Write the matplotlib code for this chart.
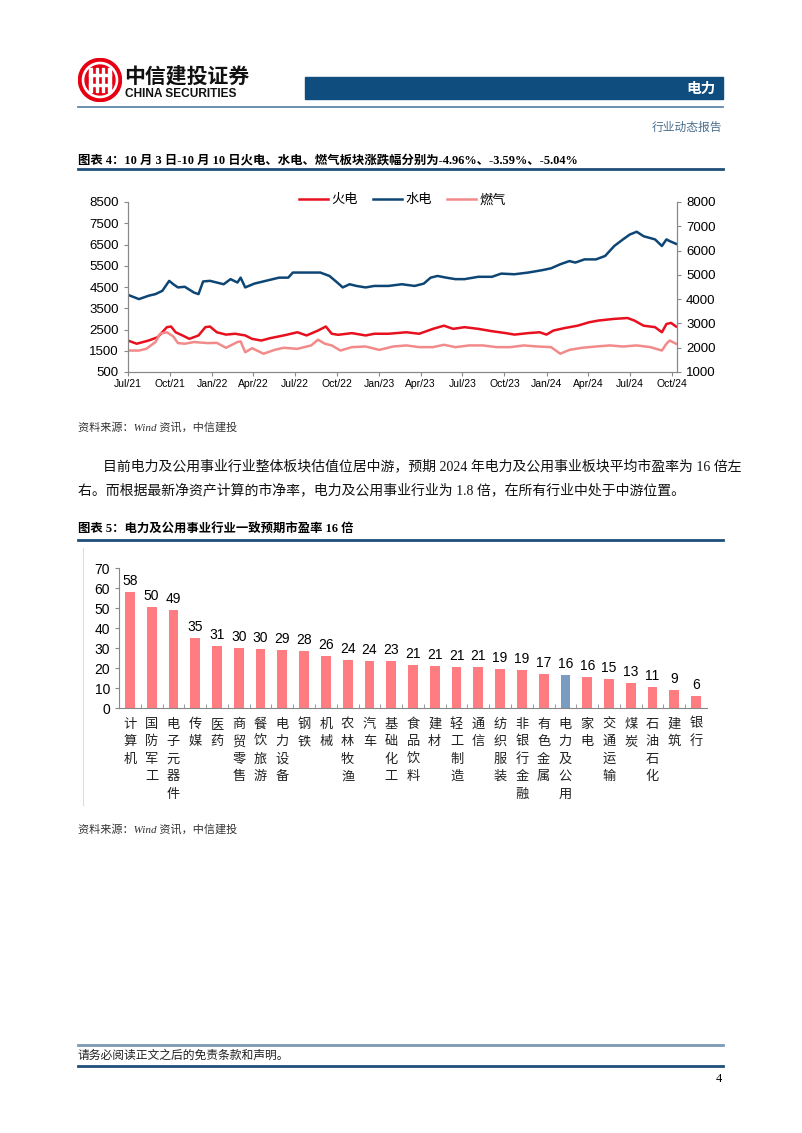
import pandas as pd
import matplotlib.pyplot as plt
import matplotlib.dates as mdates
from matplotlib.patches import Rectangle, Circle
from matplotlib.lines import Line2D

plt.rcParams['font.family'] = ['Liberation Sans', 'Noto Sans CJK SC', 'DejaVu Sans']
CJK = ['Liberation Serif', 'Noto Sans CJK SC', 'DejaVu Sans']

# ---- chart 4 data ----
hydro_dates = ['2021-07-01', '2021-07-25', '2021-08-15', '2021-08-30', '2021-09-14', '2021-09-29',
               '2021-10-08', '2021-10-18', '2021-11-02', '2021-11-22', '2021-12-02', '2021-12-12',
               '2021-12-27', '2022-01-11', '2022-01-26', '2022-02-10', '2022-02-25', '2022-03-04',
               '2022-03-14', '2022-04-03', '2022-04-28', '2022-05-27', '2022-06-16', '2022-06-26',
               '2022-07-16', '2022-08-05', '2022-08-25', '2022-09-14', '2022-10-01', '2022-10-13',
               '2022-10-28', '2022-11-12', '2022-12-02', '2022-12-21', '2023-01-21', '2023-02-19',
               '2023-03-19', '2023-04-08', '2023-04-23', '2023-05-08', '2023-05-27', '2023-06-16',
               '2023-07-06', '2023-08-05', '2023-09-04', '2023-09-24', '2023-10-23', '2023-11-22',
               '2023-12-22', '2024-01-11', '2024-01-31', '2024-02-20', '2024-03-04', '2024-03-24',
               '2024-04-18', '2024-05-08', '2024-05-28', '2024-06-16', '2024-07-01', '2024-07-16',
               '2024-07-31', '2024-08-25', '2024-09-09', '2024-09-19', '2024-09-26', '2024-10-10']
hydro = [4130, 3930, 4090, 4165, 4320, 4790, 4630, 4480, 4510, 4240, 4165, 4760,
         4790, 4710, 4630, 4870, 4710, 4940, 4480, 4660, 4790, 4940, 4940, 5180,
         5180, 5180, 5180, 5020, 4710, 4480, 4630, 4550, 4480, 4550, 4550, 4630,
         4550, 4660, 4940, 5020, 4940, 4870, 4870, 4980, 4980, 5130, 5100, 5180,
         5290, 5380, 5570, 5720, 5650, 5800, 5800, 5960, 6430, 6740, 6970, 7100,
         6890, 6740, 6430, 6740, 6660, 6530]

thermal_dates = ['2021-07-01', '2021-07-20', '2021-08-15', '2021-09-04', '2021-09-24', '2021-10-03',
                 '2021-10-13', '2021-10-28', '2021-11-12', '2021-12-02', '2021-12-17', '2021-12-27',
                 '2022-01-11', '2022-01-31', '2022-02-20', '2022-03-14', '2022-03-29', '2022-04-18',
                 '2022-05-07', '2022-06-06', '2022-07-06', '2022-07-26', '2022-08-20', '2022-09-06',
                 '2022-09-19', '2022-10-03', '2022-11-02', '2022-12-02', '2022-12-21', '2023-01-21',
                 '2023-03-01', '2023-03-29', '2023-04-28', '2023-05-22', '2023-06-11', '2023-07-06',
                 '2023-08-05', '2023-09-04', '2023-10-04', '2023-10-23', '2023-11-22', '2023-12-17',
                 '2024-01-01', '2024-01-16', '2024-02-10', '2024-03-09', '2024-04-03', '2024-04-23',
                 '2024-05-28', '2024-06-26', '2024-07-11', '2024-07-31', '2024-08-25', '2024-09-09',
                 '2024-09-19', '2024-09-29', '2024-10-10']
thermal = [1980, 1830, 1980, 2140, 2610, 2640, 2370, 2220, 2060, 2220, 2610, 2640,
           2370, 2260, 2300, 2220, 2060, 1980, 2090, 2220, 2370, 2220, 2450, 2640,
           2300, 2250, 2330, 2220, 2300, 2300, 2370, 2300, 2530, 2680, 2530, 2610,
           2530, 2420, 2330, 2260, 2330, 2370, 2260, 2450, 2570, 2680, 2840, 2920,
           3000, 3040, 2920, 2680, 2610, 2370, 2760, 2810, 2640]

gas_dates = ['2021-07-01', '2021-07-25', '2021-08-10', '2021-08-30', '2021-09-09', '2021-09-24',
             '2021-10-08', '2021-10-18', '2021-11-02', '2021-11-22', '2021-12-22', '2022-01-11',
             '2022-01-31', '2022-02-25', '2022-03-04', '2022-03-14', '2022-03-29', '2022-04-23',
             '2022-05-17', '2022-06-06', '2022-07-06', '2022-08-05', '2022-08-20', '2022-09-04',
             '2022-09-19', '2022-10-08', '2022-11-02', '2022-12-02', '2023-01-01', '2023-01-31',
             '2023-03-01', '2023-03-29', '2023-04-28', '2023-05-22', '2023-06-16', '2023-07-16',
             '2023-08-15', '2023-09-14', '2023-10-14', '2023-11-12', '2023-12-12', '2024-01-11',
             '2024-01-31', '2024-02-20', '2024-03-19', '2024-04-18', '2024-05-18', '2024-06-16',
             '2024-07-16', '2024-08-15', '2024-09-09', '2024-09-19', '2024-09-26', '2024-10-10']
gas = [1510, 1510, 1590, 1910, 2300, 2370, 2170, 1860, 1830, 1910, 1860, 1870,
       1640, 1910, 1940, 1430, 1620, 1360, 1540, 1640, 1590, 1750, 2020, 1830,
       1750, 1510, 1670, 1700, 1540, 1700, 1750, 1670, 1670, 1780, 1670, 1750,
       1750, 1670, 1670, 1750, 1700, 1670, 1360, 1540, 1640, 1700, 1750, 1700,
       1750, 1670, 1510, 1830, 1980, 1830]

# ---- chart 5 data ----
industries = ['计算机', '国防军工', '电子元器件', '传媒', '医药', '商贸零售', '餐饮旅游', '电力设备',
              '钢铁', '机械', '农林牧渔', '汽车', '基础化工', '食品饮料', '建材', '轻工制造', '通信',
              '纺织服装', '非银行金融', '有色金属', '电力及公用', '家电', '交通运输', '煤炭',
              '石油石化', '建筑', '银行']
pe = [58.2, 50.3, 49.2, 34.9, 31.2, 29.8, 29.6, 28.9, 28.4, 25.9, 24.2, 23.6, 23.3, 21.3,
      20.8, 20.6, 20.6, 19.3, 18.8, 17.1, 16.4, 15.6, 14.7, 12.6, 10.6, 8.8, 6.0]
highlight = '电力及公用'

W, H = 802, 1133
fig = plt.figure(figsize=(W / 100, H / 100), dpi=100)


def box(x0, y0, x1, y1):
    return [x0 / W, 1 - y1 / H, (x1 - x0) / W, (y1 - y0) / H]


def ftext(x, y, s, **kw):
    fig.text(x / W, 1 - y / H, s, **kw)


def hline(x0, x1, y, color, lw):
    fig.add_artist(Line2D([x0 / W, x1 / W], [1 - y / H, 1 - y / H], color=color, lw=lw))


# header
lg = fig.add_axes(box(78, 58, 122, 102))
lg.set_xlim(-1, 1); lg.set_ylim(-1, 1); lg.axis('off')
lg.add_patch(Circle((0, 0), 0.98, color='#E60012'))
lg.add_patch(Circle((0, 0), 0.80, color='white'))
lg.add_patch(Circle((0, 0), 0.68, color='#E60012'))
for xx in [-0.42, -0.14, 0.14, 0.42]:
    lg.add_patch(Rectangle((xx - 0.06, -0.55), 0.12, 1.1, color='white'))
lg.add_patch(Rectangle((-0.5, 0.18), 1.0, 0.1, color='white'))
lg.add_patch(Rectangle((-0.5, -0.28), 1.0, 0.1, color='white'))
ftext(124, 76, '中信建投证券', fontsize=15, fontweight='bold', family=['Noto Sans CJK SC'],
      va='center', ha='left', color='#111111')
ftext(125, 94, 'CHINA SECURITIES', fontsize=8.6, fontweight='bold', va='center', ha='left',
      color='#111111')
fig.add_artist(Rectangle((305 / W, 1 - 99 / H), (723 - 305) / W, 22 / H,
                         transform=fig.transFigure, color='#0E4D7E'))
ftext(716, 88, '电力', fontsize=10.5, fontweight='bold', family=['Noto Sans CJK SC'],
      color='white', ha='right', va='center')
hline(78, 723, 107, '#5F86A8', 1.3)
ftext(722, 127, '行业动态报告', fontsize=8.5, family=['Noto Sans CJK SC'], color='#4A6E8E',
      ha='right', va='center')

# chart 4
ftext(78, 160, '图表 4：10 月 3 日-10 月 10 日火电、水电、燃气板块涨跌幅分别为-4.96%、-3.59%、-5.04%',
      fontsize=8.9, fontweight='bold', family=CJK, va='center', ha='left')
hline(78, 723, 169, '#1F4E79', 2)

ax = fig.add_axes(box(128, 202, 677, 372))
ax.plot(pd.to_datetime(thermal_dates), thermal, color='#E8101E', lw=1.8, label='火电')
ax.plot(pd.to_datetime(hydro_dates), hydro, color='#0D4675', lw=1.8, label='水电')
ax.plot(pd.to_datetime(gas_dates), gas, color='#F28A8A', lw=1.8, label='燃气')
ax.set_ylim(500, 8500)
ax.set_yticks(range(500, 8501, 1000))
ax.set_xlim(pd.Timestamp('2021-07-01'), pd.Timestamp('2024-10-12'))
ax.xaxis.set_major_locator(mdates.MonthLocator(bymonth=[1, 4, 7, 10]))
ax.xaxis.set_major_formatter(mdates.DateFormatter('%b/%y'))
ax2 = ax.twinx()
ax2.set_ylim(1000, 8000)
ax2.set_yticks(range(1000, 8001, 1000))
for a in (ax, ax2):
    a.spines['top'].set_visible(False)
    for s in a.spines.values():
        s.set_color('#888888')
        s.set_linewidth(0.8)
    a.tick_params(length=3, width=0.8, color='#888888', labelsize=9.5)
ax.tick_params(axis='x', labelsize=7.5, pad=2)
ax.legend(loc='upper center', bbox_to_anchor=(0.5, 1.12), ncol=3, frameon=False,
          handlelength=2.2, handletextpad=0.2, columnspacing=1.2,
          prop={'family': ['Noto Sans CJK SC'], 'size': 9.5})

ftext(78, 427, '资料来源：Wind 资讯，中信建投', fontsize=8, family=CJK, style='italic',
      color='#333333', va='center')

ftext(103, 466, '目前电力及公用事业行业整体板块估值位居中游，预期 2024 年电力及公用事业板块平均市盈率为 16 倍左',
      fontsize=10, family=CJK, va='center', ha='left', color='#111111')
ftext(78, 490, '右。而根据最新净资产计算的市净率，电力及公用事业行业为 1.8 倍，在所有行业中处于中游位置。',
      fontsize=10, family=CJK, va='center', ha='left', color='#111111')

# chart 5
ftext(78, 530, '图表 5：电力及公用事业行业一致预期市盈率 16 倍', fontsize=8.9, fontweight='bold',
      family=CJK, va='center', ha='left')
hline(78, 723, 540, '#1F4E79', 2)
fig.add_artist(Line2D([83 / W, 83 / W], [1 - 548 / H, 1 - 805 / H], color='#DDDDDD', lw=0.8))

bx = fig.add_axes(box(119, 568, 707, 708))
xs = range(len(industries))
colors = ['#7A9CC0' if c == highlight else '#FF7C80' for c in industries]
bars = bx.bar(xs, pe, width=0.45, color=colors)
for b, v in zip(bars, pe):
    bx.text(b.get_x() + b.get_width() / 2, v + 2, f'{v:.0f}', ha='center', va='bottom', fontsize=10)
bx.set_ylim(0, 70)
bx.set_yticks(range(0, 71, 10))
bx.set_xlim(-0.5, len(industries) - 0.5)
bx.set_xticks(xs)
bx.set_xticklabels(['\n'.join(c) for c in industries], family=['Noto Sans CJK SC'],
                   fontsize=9.5, va='top', linespacing=1.45, color='#222222')
bx.set_xticks([i + 0.5 for i in range(len(industries) - 1)], minor=True)
bx.tick_params(axis='x', which='major', length=0, pad=7)
bx.tick_params(axis='x', which='minor', length=3, direction='in', color='#888888')
bx.tick_params(axis='y', labelsize=10, length=3, color='#888888')
for s in ['top', 'right']:
    bx.spines[s].set_visible(False)
for s in ['left', 'bottom']:
    bx.spines[s].set_color('#888888')
    bx.spines[s].set_linewidth(0.8)

ftext(78, 829, '资料来源：Wind 资讯，中信建投', fontsize=8, family=CJK, style='italic',
      color='#333333', va='center')

# footer
hline(78, 723, 1045, '#7C9BB3', 2)
ftext(78, 1055, '请务必阅读正文之后的免责条款和声明。', fontsize=8.5, family=['Noto Sans CJK SC'],
      va='center', color='#222222')
hline(78, 723, 1066, '#1F4E79', 2)
ftext(722, 1079, '4', fontsize=9, family=['Liberation Serif'], ha='right', va='center')

fig.savefig('out.png', dpi=100)
